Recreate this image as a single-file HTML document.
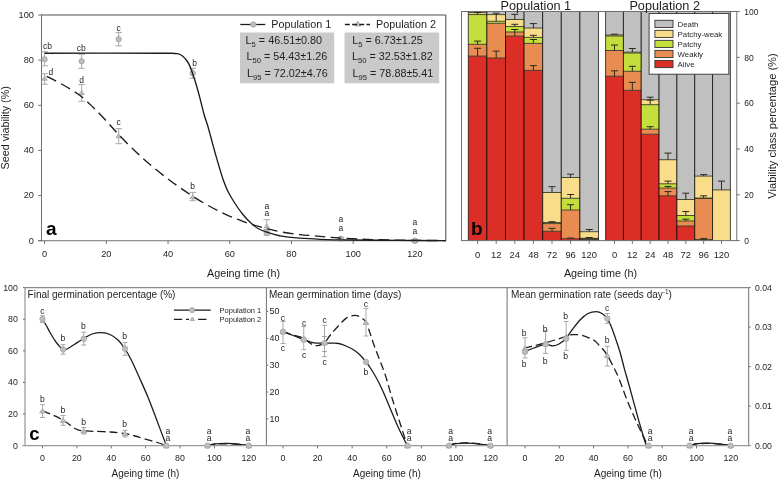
<!DOCTYPE html>
<html><head><meta charset="utf-8"><style>
html,body{margin:0;padding:0;background:#fff;}
svg{display:block;font-family:"Liberation Sans", sans-serif;will-change:transform;}
</style></head><body>
<svg width="779" height="480" viewBox="0 0 779 480" font-family='"Liberation Sans", sans-serif'>
<rect width="779" height="480" fill="#fff"/>
<path d="M41.5,15.0H445.8" stroke="#8a8a8a" stroke-width="1.4" fill="none"/>
<line x1="445.80" y1="15.00" x2="445.80" y2="240.70" stroke="#555" stroke-width="1.1" />
<line x1="41.50" y1="14.30" x2="41.50" y2="241.20" stroke="#6f6f6f" stroke-width="1" />
<line x1="38.30" y1="240.70" x2="445.80" y2="240.70" stroke="#6f6f6f" stroke-width="1.1" />
<line x1="38.30" y1="240.70" x2="41.50" y2="240.70" stroke="#6f6f6f" stroke-width="1" />
<text x="33.90" y="243.60" font-size="9.2" text-anchor="end" font-weight="normal" fill="#1e1e1e" >0</text>
<line x1="38.30" y1="195.56" x2="41.50" y2="195.56" stroke="#6f6f6f" stroke-width="1" />
<text x="33.90" y="198.46" font-size="9.2" text-anchor="end" font-weight="normal" fill="#1e1e1e" >20</text>
<line x1="38.30" y1="150.42" x2="41.50" y2="150.42" stroke="#6f6f6f" stroke-width="1" />
<text x="33.90" y="153.32" font-size="9.2" text-anchor="end" font-weight="normal" fill="#1e1e1e" >40</text>
<line x1="38.30" y1="105.28" x2="41.50" y2="105.28" stroke="#6f6f6f" stroke-width="1" />
<text x="33.90" y="108.18" font-size="9.2" text-anchor="end" font-weight="normal" fill="#1e1e1e" >60</text>
<line x1="38.30" y1="60.14" x2="41.50" y2="60.14" stroke="#6f6f6f" stroke-width="1" />
<text x="33.90" y="63.04" font-size="9.2" text-anchor="end" font-weight="normal" fill="#1e1e1e" >80</text>
<line x1="38.30" y1="15.00" x2="41.50" y2="15.00" stroke="#6f6f6f" stroke-width="1" />
<text x="33.90" y="17.90" font-size="9.2" text-anchor="end" font-weight="normal" fill="#1e1e1e" >100</text>
<line x1="44.60" y1="240.70" x2="44.60" y2="244.00" stroke="#6f6f6f" stroke-width="1" />
<text x="44.60" y="257.10" font-size="9.2" text-anchor="middle" font-weight="normal" fill="#1e1e1e" >0</text>
<line x1="106.32" y1="240.70" x2="106.32" y2="244.00" stroke="#6f6f6f" stroke-width="1" />
<text x="106.32" y="257.10" font-size="9.2" text-anchor="middle" font-weight="normal" fill="#1e1e1e" >20</text>
<line x1="168.04" y1="240.70" x2="168.04" y2="244.00" stroke="#6f6f6f" stroke-width="1" />
<text x="168.04" y="257.10" font-size="9.2" text-anchor="middle" font-weight="normal" fill="#1e1e1e" >40</text>
<line x1="229.76" y1="240.70" x2="229.76" y2="244.00" stroke="#6f6f6f" stroke-width="1" />
<text x="229.76" y="257.10" font-size="9.2" text-anchor="middle" font-weight="normal" fill="#1e1e1e" >60</text>
<line x1="291.48" y1="240.70" x2="291.48" y2="244.00" stroke="#6f6f6f" stroke-width="1" />
<text x="291.48" y="257.10" font-size="9.2" text-anchor="middle" font-weight="normal" fill="#1e1e1e" >80</text>
<line x1="353.20" y1="240.70" x2="353.20" y2="244.00" stroke="#6f6f6f" stroke-width="1" />
<text x="353.20" y="257.10" font-size="9.2" text-anchor="middle" font-weight="normal" fill="#1e1e1e" >100</text>
<line x1="414.92" y1="240.70" x2="414.92" y2="244.00" stroke="#6f6f6f" stroke-width="1" />
<text x="414.92" y="257.10" font-size="9.2" text-anchor="middle" font-weight="normal" fill="#1e1e1e" >120</text>
<text x="243.60" y="276.60" font-size="10.8" text-anchor="middle" font-weight="normal" fill="#1e1e1e" >Ageing time (h)</text>
<text transform="translate(9.2,127.8) rotate(-90)" font-size="10.8" text-anchor="middle" fill="#1e1e1e">Seed viability (%)</text>
<text x="46.00" y="235.20" font-size="19" text-anchor="start" font-weight="bold" fill="#000" >a</text>
<path d="M41.30,73.70H47.90M44.60,73.70V84.20M41.30,84.20H47.90" stroke="#a8a8a8" stroke-width="1" fill="none"/>
<path d="M78.33,84.50H84.93M81.63,84.50V101.30M78.33,101.30H84.93" stroke="#a8a8a8" stroke-width="1" fill="none"/>
<path d="M115.36,128.70H121.96M118.66,128.70V143.70M115.36,143.70H121.96" stroke="#a8a8a8" stroke-width="1" fill="none"/>
<path d="M189.43,192.40H196.03M192.73,192.40V200.70M189.43,200.70H196.03" stroke="#a8a8a8" stroke-width="1" fill="none"/>
<path d="M263.49,219.70H270.09M266.79,219.70V231.00M263.49,231.00H270.09" stroke="#a8a8a8" stroke-width="1" fill="none"/>
<path d="M337.56,237.60H344.16M340.86,237.60V239.60M337.56,239.60H344.16" stroke="#a8a8a8" stroke-width="1" fill="none"/>
<path d="M411.62,239.50H418.22M414.92,239.50V241.50M411.62,241.50H418.22" stroke="#a8a8a8" stroke-width="1" fill="none"/>
<path d="M41.30,51.70H47.90M44.60,51.70V65.80M41.30,65.80H47.90" stroke="#a8a8a8" stroke-width="1" fill="none"/>
<path d="M78.33,54.20H84.93M81.63,54.20V68.30M78.33,68.30H84.93" stroke="#a8a8a8" stroke-width="1" fill="none"/>
<path d="M115.36,32.60H121.96M118.66,32.60V45.80M115.36,45.80H121.96" stroke="#a8a8a8" stroke-width="1" fill="none"/>
<path d="M189.43,68.30H196.03M192.73,68.30V78.30M189.43,78.30H196.03" stroke="#a8a8a8" stroke-width="1" fill="none"/>
<path d="M263.49,229.50H270.09M266.79,229.50V235.10M263.49,235.10H270.09" stroke="#a8a8a8" stroke-width="1" fill="none"/>
<path d="M337.56,237.60H344.16M340.86,237.60V239.60M337.56,239.60H344.16" stroke="#a8a8a8" stroke-width="1" fill="none"/>
<path d="M411.62,239.50H418.22M414.92,239.50V241.50M411.62,241.50H418.22" stroke="#a8a8a8" stroke-width="1" fill="none"/>
<polygon points="44.60,76.16 47.22,80.23 41.98,80.23" fill="#bdbdbd" stroke="#a3a3a3" stroke-width="0.8"/>
<polygon points="81.63,90.38 84.26,94.45 79.01,94.45" fill="#bdbdbd" stroke="#a3a3a3" stroke-width="0.8"/>
<polygon points="118.66,133.72 121.29,137.78 116.04,137.78" fill="#bdbdbd" stroke="#a3a3a3" stroke-width="0.8"/>
<polygon points="192.73,194.65 195.35,198.72 190.10,198.72" fill="#bdbdbd" stroke="#a3a3a3" stroke-width="0.8"/>
<polygon points="266.79,224.00 269.42,228.06 264.17,228.06" fill="#bdbdbd" stroke="#a3a3a3" stroke-width="0.8"/>
<polygon points="340.86,236.64 343.48,240.70 338.23,240.70" fill="#bdbdbd" stroke="#a3a3a3" stroke-width="0.8"/>
<polygon points="414.92,238.67 417.54,242.73 412.30,242.73" fill="#bdbdbd" stroke="#a3a3a3" stroke-width="0.8"/>
<circle cx="44.60" cy="59.24" r="2.7" fill="#bdbdbd" stroke="#a3a3a3" stroke-width="0.8"/>
<circle cx="81.63" cy="61.27" r="2.7" fill="#bdbdbd" stroke="#a3a3a3" stroke-width="0.8"/>
<circle cx="118.66" cy="39.15" r="2.7" fill="#bdbdbd" stroke="#a3a3a3" stroke-width="0.8"/>
<circle cx="192.73" cy="73.23" r="2.7" fill="#bdbdbd" stroke="#a3a3a3" stroke-width="0.8"/>
<circle cx="266.79" cy="233.25" r="2.7" fill="#bdbdbd" stroke="#a3a3a3" stroke-width="0.8"/>
<circle cx="340.86" cy="238.67" r="2.7" fill="#bdbdbd" stroke="#a3a3a3" stroke-width="0.8"/>
<circle cx="414.92" cy="240.70" r="2.7" fill="#bdbdbd" stroke="#a3a3a3" stroke-width="0.8"/>
<path d="M44.60,53.20 C63.83,53.20 138.77,53.19 160.00,53.20 C181.23,53.21 169.17,53.18 172.00,53.25 C174.83,53.32 175.67,53.39 177.00,53.60 C178.33,53.81 179.08,54.10 180.00,54.50 C180.92,54.90 181.53,55.18 182.50,56.00 C183.47,56.82 184.68,57.97 185.80,59.40 C186.92,60.83 188.08,62.28 189.20,64.60 C190.32,66.92 191.40,70.18 192.50,73.30 C193.60,76.42 194.55,79.13 195.80,83.30 C197.05,87.47 198.60,93.02 200.00,98.30 C201.40,103.58 202.95,110.55 204.20,115.00 C205.45,119.45 206.40,121.33 207.50,125.00 C208.60,128.67 209.55,132.42 210.80,137.00 C212.05,141.58 213.55,147.33 215.00,152.50 C216.45,157.67 218.12,163.42 219.50,168.00 C220.88,172.58 221.88,176.08 223.30,180.00 C224.72,183.92 226.05,187.58 228.00,191.50 C229.95,195.42 232.45,199.58 235.00,203.50 C237.55,207.42 240.55,211.65 243.30,215.00 C246.05,218.35 249.05,221.35 251.50,223.60 C253.95,225.85 255.58,227.13 258.00,228.50 C260.42,229.87 262.05,230.53 266.00,231.80 C269.95,233.07 276.03,235.03 281.70,236.10 C287.37,237.17 293.62,237.67 300.00,238.20 C306.38,238.73 311.67,239.00 320.00,239.30 C328.33,239.60 336.67,239.82 350.00,240.00 C363.33,240.18 384.03,240.30 400.00,240.40 C415.97,240.50 438.17,240.57 445.80,240.60" stroke="#1c1c1c" stroke-width="1.35" fill="none"/>
<path d="M46.70,76.30 C49.47,77.75 57.75,81.80 63.30,85.00 C68.85,88.20 75.00,91.75 80.00,95.50 C85.00,99.25 89.13,103.50 93.30,107.50 C97.47,111.50 100.83,115.05 105.00,119.50 C109.17,123.95 113.30,128.95 118.30,134.20 C123.30,139.45 129.72,145.95 135.00,151.00 C140.28,156.05 144.45,159.80 150.00,164.50 C155.55,169.20 161.63,174.20 168.30,179.20 C174.97,184.20 183.05,189.95 190.00,194.50 C196.95,199.05 203.88,203.12 210.00,206.50 C216.12,209.88 221.70,212.52 226.70,214.80 C231.70,217.08 235.70,218.55 240.00,220.20 C244.30,221.85 248.17,223.35 252.50,224.70 C256.83,226.05 261.13,227.08 266.00,228.30 C270.87,229.52 276.03,230.95 281.70,232.00 C287.37,233.05 294.52,233.95 300.00,234.60 C305.48,235.25 308.05,235.33 314.60,235.90 C321.15,236.47 329.73,237.38 339.30,238.00 C348.87,238.62 360.22,239.22 372.00,239.60 C383.78,239.98 397.70,240.13 410.00,240.30 C422.30,240.47 439.83,240.55 445.80,240.60" stroke="#1c1c1c" stroke-width="1.35" fill="none" stroke-dasharray="10.5 5.5"/>
<text x="47.50" y="49.20" font-size="8.5" text-anchor="middle" font-weight="normal" fill="#1e1e1e" >cb</text>
<text x="81.30" y="51.00" font-size="8.5" text-anchor="middle" font-weight="normal" fill="#1e1e1e" >cb</text>
<text x="118.70" y="31.00" font-size="8.5" text-anchor="middle" font-weight="normal" fill="#1e1e1e" >c</text>
<text x="194.50" y="66.00" font-size="8.5" text-anchor="middle" font-weight="normal" fill="#1e1e1e" >b</text>
<text x="50.80" y="74.70" font-size="8.5" text-anchor="middle" font-weight="normal" fill="#1e1e1e" >d</text>
<text x="81.70" y="82.70" font-size="8.5" text-anchor="middle" font-weight="normal" fill="#1e1e1e" >d</text>
<text x="118.70" y="125.00" font-size="8.5" text-anchor="middle" font-weight="normal" fill="#1e1e1e" >c</text>
<text x="192.73" y="189.20" font-size="8.5" text-anchor="middle" font-weight="normal" fill="#1e1e1e" >b</text>
<text x="266.79" y="209.00" font-size="8.5" text-anchor="middle" font-weight="normal" fill="#1e1e1e" >a</text>
<text x="266.79" y="216.30" font-size="8.5" text-anchor="middle" font-weight="normal" fill="#1e1e1e" >a</text>
<text x="340.86" y="222.00" font-size="8.5" text-anchor="middle" font-weight="normal" fill="#1e1e1e" >a</text>
<text x="340.86" y="230.80" font-size="8.5" text-anchor="middle" font-weight="normal" fill="#1e1e1e" >a</text>
<text x="414.92" y="225.10" font-size="8.5" text-anchor="middle" font-weight="normal" fill="#1e1e1e" >a</text>
<text x="414.92" y="233.90" font-size="8.5" text-anchor="middle" font-weight="normal" fill="#1e1e1e" >a</text>
<line x1="240.30" y1="24.50" x2="265.30" y2="24.50" stroke="#1c1c1c" stroke-width="1.3" />
<circle cx="253.30" cy="24.50" r="2.7" fill="#bdbdbd" stroke="#a3a3a3" stroke-width="0.8"/>
<text x="271.20" y="27.80" font-size="10.8" text-anchor="start" font-weight="normal" fill="#1e1e1e" >Population 1</text>
<polygon points="357.70,21.25 360.73,25.95 354.67,25.95" fill="#bdbdbd" stroke="#a3a3a3" stroke-width="0.8"/>
<path d="M344.9,24.5H370" stroke="#1c1c1c" stroke-width="1.3" stroke-dasharray="4.9 2.3"/>
<text x="376.00" y="27.80" font-size="10.8" text-anchor="start" font-weight="normal" fill="#1e1e1e" >Population 2</text>
<rect x="240" y="32.5" width="94.2" height="50.8" fill="#c9c9c9"/>
<rect x="344.5" y="32.5" width="94.7" height="50.8" fill="#c9c9c9"/>
<text x="245.6" y="44.2" font-size="10.8" fill="#1e1e1e">L<tspan font-size="7.6" dy="2.6">5</tspan><tspan dy="-2.6"> = 46.51±0.80</tspan></text>
<text x="246.5" y="60.2" font-size="10.8" fill="#1e1e1e">L<tspan font-size="7.6" dy="2.6">50</tspan><tspan dy="-2.6"> = 54.43±1.26</tspan></text>
<text x="247.0" y="77.0" font-size="10.8" fill="#1e1e1e">L<tspan font-size="7.6" dy="2.6">95</tspan><tspan dy="-2.6"> = 72.02±4.76</tspan></text>
<text x="352.3" y="44.2" font-size="10.8" fill="#1e1e1e">L<tspan font-size="7.6" dy="2.6">5</tspan><tspan dy="-2.6"> = 6.73±1.25</tspan></text>
<text x="352.0" y="60.2" font-size="10.8" fill="#1e1e1e">L<tspan font-size="7.6" dy="2.6">50</tspan><tspan dy="-2.6"> = 32.53±1.82</tspan></text>
<text x="352.6" y="77.0" font-size="10.8" fill="#1e1e1e">L<tspan font-size="7.6" dy="2.6">95</tspan><tspan dy="-2.6"> = 78.88±5.41</tspan></text>
<rect x="468.30" y="11.50" width="18.60" height="1.10" fill="#c0c0c0"/>
<rect x="468.30" y="12.60" width="18.60" height="2.00" fill="#f9dd8a"/>
<rect x="468.30" y="14.60" width="18.60" height="29.70" fill="#c4df3c"/>
<rect x="468.30" y="44.30" width="18.60" height="11.80" fill="#e98c52"/>
<rect x="468.30" y="56.10" width="18.60" height="184.50" fill="#da2e27"/>
<line x1="468.30" y1="12.60" x2="486.90" y2="12.60" stroke="#3a3a2a" stroke-width="0.9" />
<line x1="468.30" y1="14.60" x2="486.90" y2="14.60" stroke="#3a3a2a" stroke-width="0.9" />
<line x1="468.30" y1="44.30" x2="486.90" y2="44.30" stroke="#3a3a2a" stroke-width="0.9" />
<line x1="468.30" y1="56.10" x2="486.90" y2="56.10" stroke="#3a3a2a" stroke-width="0.9" />
<line x1="468.30" y1="11.50" x2="468.30" y2="240.60" stroke="#000" stroke-width="1" stroke-opacity="0.7"/>
<line x1="486.90" y1="11.50" x2="486.90" y2="240.60" stroke="#000" stroke-width="1" stroke-opacity="0.7"/>
<path d="M474.10,12.60H481.10M477.60,12.60V14.60" stroke="#2a2a1a" stroke-width="1" fill="none"/>
<path d="M474.10,41.10H481.10M477.60,41.10V44.30" stroke="#2a2a1a" stroke-width="1" fill="none"/>
<path d="M474.10,48.30H481.10M477.60,48.30V56.10" stroke="#2a2a1a" stroke-width="1" fill="none"/>
<rect x="486.90" y="11.50" width="18.60" height="3.10" fill="#c0c0c0"/>
<rect x="486.90" y="14.60" width="18.60" height="6.70" fill="#f9dd8a"/>
<rect x="486.90" y="21.30" width="18.60" height="2.00" fill="#c4df3c"/>
<rect x="486.90" y="23.30" width="18.60" height="34.70" fill="#e98c52"/>
<rect x="486.90" y="58.00" width="18.60" height="182.60" fill="#da2e27"/>
<line x1="486.90" y1="14.60" x2="505.50" y2="14.60" stroke="#3a3a2a" stroke-width="0.9" />
<line x1="486.90" y1="21.30" x2="505.50" y2="21.30" stroke="#3a3a2a" stroke-width="0.9" />
<line x1="486.90" y1="23.30" x2="505.50" y2="23.30" stroke="#3a3a2a" stroke-width="0.9" />
<line x1="486.90" y1="58.00" x2="505.50" y2="58.00" stroke="#3a3a2a" stroke-width="0.9" />
<line x1="486.90" y1="11.50" x2="486.90" y2="240.60" stroke="#000" stroke-width="1" stroke-opacity="0.7"/>
<line x1="505.50" y1="11.50" x2="505.50" y2="240.60" stroke="#000" stroke-width="1" stroke-opacity="0.7"/>
<path d="M492.70,13.20H499.70M496.20,13.20V21.30" stroke="#2a2a1a" stroke-width="1" fill="none"/>
<path d="M492.70,51.10H499.70M496.20,51.10V58.00" stroke="#2a2a1a" stroke-width="1" fill="none"/>
<rect x="505.50" y="11.50" width="18.60" height="8.00" fill="#c0c0c0"/>
<rect x="505.50" y="19.50" width="18.60" height="7.00" fill="#f9dd8a"/>
<rect x="505.50" y="26.50" width="18.60" height="5.50" fill="#c4df3c"/>
<rect x="505.50" y="32.00" width="18.60" height="4.10" fill="#e98c52"/>
<rect x="505.50" y="36.10" width="18.60" height="204.50" fill="#da2e27"/>
<line x1="505.50" y1="19.50" x2="524.10" y2="19.50" stroke="#3a3a2a" stroke-width="0.9" />
<line x1="505.50" y1="26.50" x2="524.10" y2="26.50" stroke="#3a3a2a" stroke-width="0.9" />
<line x1="505.50" y1="32.00" x2="524.10" y2="32.00" stroke="#3a3a2a" stroke-width="0.9" />
<line x1="505.50" y1="36.10" x2="524.10" y2="36.10" stroke="#3a3a2a" stroke-width="0.9" />
<line x1="505.50" y1="11.50" x2="505.50" y2="240.60" stroke="#000" stroke-width="1" stroke-opacity="0.7"/>
<line x1="524.10" y1="11.50" x2="524.10" y2="240.60" stroke="#000" stroke-width="1" stroke-opacity="0.7"/>
<path d="M511.30,14.30H518.30M514.80,14.30V19.50" stroke="#2a2a1a" stroke-width="1" fill="none"/>
<path d="M511.30,24.30H518.30M514.80,24.30V26.50" stroke="#2a2a1a" stroke-width="1" fill="none"/>
<path d="M511.30,29.50H518.30M514.80,29.50V36.10" stroke="#2a2a1a" stroke-width="1" fill="none"/>
<rect x="524.10" y="11.50" width="18.60" height="16.50" fill="#c0c0c0"/>
<rect x="524.10" y="28.00" width="18.60" height="9.40" fill="#f9dd8a"/>
<rect x="524.10" y="37.40" width="18.60" height="6.00" fill="#c4df3c"/>
<rect x="524.10" y="43.40" width="18.60" height="27.00" fill="#e98c52"/>
<rect x="524.10" y="70.40" width="18.60" height="170.20" fill="#da2e27"/>
<line x1="524.10" y1="28.00" x2="542.70" y2="28.00" stroke="#3a3a2a" stroke-width="0.9" />
<line x1="524.10" y1="37.40" x2="542.70" y2="37.40" stroke="#3a3a2a" stroke-width="0.9" />
<line x1="524.10" y1="43.40" x2="542.70" y2="43.40" stroke="#3a3a2a" stroke-width="0.9" />
<line x1="524.10" y1="70.40" x2="542.70" y2="70.40" stroke="#3a3a2a" stroke-width="0.9" />
<line x1="524.10" y1="11.50" x2="524.10" y2="240.60" stroke="#000" stroke-width="1" stroke-opacity="0.7"/>
<line x1="542.70" y1="11.50" x2="542.70" y2="240.60" stroke="#000" stroke-width="1" stroke-opacity="0.7"/>
<path d="M529.90,23.60H536.90M533.40,23.60V28.00" stroke="#2a2a1a" stroke-width="1" fill="none"/>
<path d="M529.90,35.30H536.90M533.40,35.30V37.40" stroke="#2a2a1a" stroke-width="1" fill="none"/>
<path d="M529.90,39.50H536.90M533.40,39.50V43.40" stroke="#2a2a1a" stroke-width="1" fill="none"/>
<path d="M529.90,65.60H536.90M533.40,65.60V70.40" stroke="#2a2a1a" stroke-width="1" fill="none"/>
<rect x="542.70" y="11.50" width="18.60" height="181.00" fill="#c0c0c0"/>
<rect x="542.70" y="192.50" width="18.60" height="30.00" fill="#f9dd8a"/>
<rect x="542.70" y="222.50" width="18.60" height="1.10" fill="#c4df3c"/>
<rect x="542.70" y="223.60" width="18.60" height="7.70" fill="#e98c52"/>
<rect x="542.70" y="231.30" width="18.60" height="9.30" fill="#da2e27"/>
<line x1="542.70" y1="192.50" x2="561.30" y2="192.50" stroke="#3a3a2a" stroke-width="0.9" />
<line x1="542.70" y1="222.50" x2="561.30" y2="222.50" stroke="#3a3a2a" stroke-width="0.9" />
<line x1="542.70" y1="223.60" x2="561.30" y2="223.60" stroke="#3a3a2a" stroke-width="0.9" />
<line x1="542.70" y1="231.30" x2="561.30" y2="231.30" stroke="#3a3a2a" stroke-width="0.9" />
<line x1="542.70" y1="11.50" x2="542.70" y2="240.60" stroke="#000" stroke-width="1" stroke-opacity="0.7"/>
<line x1="561.30" y1="11.50" x2="561.30" y2="240.60" stroke="#000" stroke-width="1" stroke-opacity="0.7"/>
<path d="M548.50,186.70H555.50M552.00,186.70V192.50" stroke="#2a2a1a" stroke-width="1" fill="none"/>
<path d="M548.50,221.70H555.50M552.00,221.70V222.50" stroke="#2a2a1a" stroke-width="1" fill="none"/>
<path d="M548.50,228.30H555.50M552.00,228.30V231.30" stroke="#2a2a1a" stroke-width="1" fill="none"/>
<rect x="561.30" y="11.50" width="18.60" height="166.00" fill="#c0c0c0"/>
<rect x="561.30" y="177.50" width="18.60" height="20.80" fill="#f9dd8a"/>
<rect x="561.30" y="198.30" width="18.60" height="11.70" fill="#c4df3c"/>
<rect x="561.30" y="210.00" width="18.60" height="28.70" fill="#e98c52"/>
<rect x="561.30" y="238.70" width="18.60" height="1.90" fill="#da2e27"/>
<line x1="561.30" y1="177.50" x2="579.90" y2="177.50" stroke="#3a3a2a" stroke-width="0.9" />
<line x1="561.30" y1="198.30" x2="579.90" y2="198.30" stroke="#3a3a2a" stroke-width="0.9" />
<line x1="561.30" y1="210.00" x2="579.90" y2="210.00" stroke="#3a3a2a" stroke-width="0.9" />
<line x1="561.30" y1="238.70" x2="579.90" y2="238.70" stroke="#3a3a2a" stroke-width="0.9" />
<line x1="561.30" y1="11.50" x2="561.30" y2="240.60" stroke="#000" stroke-width="1" stroke-opacity="0.7"/>
<line x1="579.90" y1="11.50" x2="579.90" y2="240.60" stroke="#000" stroke-width="1" stroke-opacity="0.7"/>
<path d="M567.10,174.20H574.10M570.60,174.20V177.50" stroke="#2a2a1a" stroke-width="1" fill="none"/>
<path d="M567.10,194.50H574.10M570.60,194.50V198.30" stroke="#2a2a1a" stroke-width="1" fill="none"/>
<path d="M567.10,204.70H574.10M570.60,204.70V210.00" stroke="#2a2a1a" stroke-width="1" fill="none"/>
<path d="M567.10,238.00H574.10M570.60,238.00V238.70" stroke="#2a2a1a" stroke-width="1" fill="none"/>
<rect x="579.90" y="11.50" width="18.60" height="220.20" fill="#c0c0c0"/>
<rect x="579.90" y="231.70" width="18.60" height="6.60" fill="#f9dd8a"/>
<rect x="579.90" y="238.30" width="18.60" height="0.30" fill="#c4df3c"/>
<rect x="579.90" y="238.60" width="18.60" height="0.90" fill="#e98c52"/>
<rect x="579.90" y="239.50" width="18.60" height="1.10" fill="#da2e27"/>
<line x1="579.90" y1="231.70" x2="598.50" y2="231.70" stroke="#3a3a2a" stroke-width="0.9" />
<line x1="579.90" y1="238.30" x2="598.50" y2="238.30" stroke="#3a3a2a" stroke-width="0.9" />
<line x1="579.90" y1="238.60" x2="598.50" y2="238.60" stroke="#3a3a2a" stroke-width="0.9" />
<line x1="579.90" y1="239.50" x2="598.50" y2="239.50" stroke="#3a3a2a" stroke-width="0.9" />
<line x1="579.90" y1="11.50" x2="579.90" y2="240.60" stroke="#000" stroke-width="1" stroke-opacity="0.7"/>
<line x1="598.50" y1="11.50" x2="598.50" y2="240.60" stroke="#000" stroke-width="1" stroke-opacity="0.7"/>
<path d="M585.70,229.50H592.70M589.20,229.50V231.70" stroke="#2a2a1a" stroke-width="1" fill="none"/>
<path d="M585.70,237.50H592.70M589.20,237.50V238.30" stroke="#2a2a1a" stroke-width="1" fill="none"/>
<rect x="605.60" y="11.50" width="17.83" height="23.50" fill="#c0c0c0"/>
<rect x="605.60" y="35.00" width="17.83" height="1.00" fill="#f9dd8a"/>
<rect x="605.60" y="36.00" width="17.83" height="14.50" fill="#c4df3c"/>
<rect x="605.60" y="50.50" width="17.83" height="25.70" fill="#e98c52"/>
<rect x="605.60" y="76.20" width="17.83" height="164.40" fill="#da2e27"/>
<line x1="605.60" y1="35.00" x2="623.43" y2="35.00" stroke="#3a3a2a" stroke-width="0.9" />
<line x1="605.60" y1="36.00" x2="623.43" y2="36.00" stroke="#3a3a2a" stroke-width="0.9" />
<line x1="605.60" y1="50.50" x2="623.43" y2="50.50" stroke="#3a3a2a" stroke-width="0.9" />
<line x1="605.60" y1="76.20" x2="623.43" y2="76.20" stroke="#3a3a2a" stroke-width="0.9" />
<line x1="605.60" y1="11.50" x2="605.60" y2="240.60" stroke="#000" stroke-width="1" stroke-opacity="0.7"/>
<line x1="623.43" y1="11.50" x2="623.43" y2="240.60" stroke="#000" stroke-width="1" stroke-opacity="0.7"/>
<path d="M611.01,34.20H618.01M614.51,34.20V35.00" stroke="#2a2a1a" stroke-width="1" fill="none"/>
<path d="M611.01,45.00H618.01M614.51,45.00V50.50" stroke="#2a2a1a" stroke-width="1" fill="none"/>
<path d="M611.01,70.80H618.01M614.51,70.80V76.20" stroke="#2a2a1a" stroke-width="1" fill="none"/>
<rect x="623.43" y="11.50" width="17.83" height="40.70" fill="#c0c0c0"/>
<rect x="623.43" y="52.20" width="17.83" height="0.80" fill="#f9dd8a"/>
<rect x="623.43" y="53.00" width="17.83" height="18.30" fill="#c4df3c"/>
<rect x="623.43" y="71.30" width="17.83" height="19.00" fill="#e98c52"/>
<rect x="623.43" y="90.30" width="17.83" height="150.30" fill="#da2e27"/>
<line x1="623.43" y1="52.20" x2="641.26" y2="52.20" stroke="#3a3a2a" stroke-width="0.9" />
<line x1="623.43" y1="53.00" x2="641.26" y2="53.00" stroke="#3a3a2a" stroke-width="0.9" />
<line x1="623.43" y1="71.30" x2="641.26" y2="71.30" stroke="#3a3a2a" stroke-width="0.9" />
<line x1="623.43" y1="90.30" x2="641.26" y2="90.30" stroke="#3a3a2a" stroke-width="0.9" />
<line x1="623.43" y1="11.50" x2="623.43" y2="240.60" stroke="#000" stroke-width="1" stroke-opacity="0.7"/>
<line x1="641.26" y1="11.50" x2="641.26" y2="240.60" stroke="#000" stroke-width="1" stroke-opacity="0.7"/>
<path d="M628.84,48.50H635.84M632.34,48.50V52.20" stroke="#2a2a1a" stroke-width="1" fill="none"/>
<path d="M628.84,66.30H635.84M632.34,66.30V71.30" stroke="#2a2a1a" stroke-width="1" fill="none"/>
<path d="M628.84,82.40H635.84M632.34,82.40V90.30" stroke="#2a2a1a" stroke-width="1" fill="none"/>
<rect x="641.26" y="11.50" width="17.83" height="88.20" fill="#c0c0c0"/>
<rect x="641.26" y="99.70" width="17.83" height="5.00" fill="#f9dd8a"/>
<rect x="641.26" y="104.70" width="17.83" height="24.50" fill="#c4df3c"/>
<rect x="641.26" y="129.20" width="17.83" height="5.00" fill="#e98c52"/>
<rect x="641.26" y="134.20" width="17.83" height="106.40" fill="#da2e27"/>
<line x1="641.26" y1="99.70" x2="659.09" y2="99.70" stroke="#3a3a2a" stroke-width="0.9" />
<line x1="641.26" y1="104.70" x2="659.09" y2="104.70" stroke="#3a3a2a" stroke-width="0.9" />
<line x1="641.26" y1="129.20" x2="659.09" y2="129.20" stroke="#3a3a2a" stroke-width="0.9" />
<line x1="641.26" y1="134.20" x2="659.09" y2="134.20" stroke="#3a3a2a" stroke-width="0.9" />
<line x1="641.26" y1="11.50" x2="641.26" y2="240.60" stroke="#000" stroke-width="1" stroke-opacity="0.7"/>
<line x1="659.09" y1="11.50" x2="659.09" y2="240.60" stroke="#000" stroke-width="1" stroke-opacity="0.7"/>
<path d="M646.67,97.20H653.67M650.17,97.20V99.70" stroke="#2a2a1a" stroke-width="1" fill="none"/>
<path d="M646.67,100.20H653.67M650.17,100.20V104.70" stroke="#2a2a1a" stroke-width="1" fill="none"/>
<path d="M646.67,126.70H653.67M650.17,126.70V129.20" stroke="#2a2a1a" stroke-width="1" fill="none"/>
<rect x="659.09" y="11.50" width="17.83" height="148.20" fill="#c0c0c0"/>
<rect x="659.09" y="159.70" width="17.83" height="24.10" fill="#f9dd8a"/>
<rect x="659.09" y="183.80" width="17.83" height="4.30" fill="#c4df3c"/>
<rect x="659.09" y="188.10" width="17.83" height="7.70" fill="#e98c52"/>
<rect x="659.09" y="195.80" width="17.83" height="44.80" fill="#da2e27"/>
<line x1="659.09" y1="159.70" x2="676.91" y2="159.70" stroke="#3a3a2a" stroke-width="0.9" />
<line x1="659.09" y1="183.80" x2="676.91" y2="183.80" stroke="#3a3a2a" stroke-width="0.9" />
<line x1="659.09" y1="188.10" x2="676.91" y2="188.10" stroke="#3a3a2a" stroke-width="0.9" />
<line x1="659.09" y1="195.80" x2="676.91" y2="195.80" stroke="#3a3a2a" stroke-width="0.9" />
<line x1="659.09" y1="11.50" x2="659.09" y2="240.60" stroke="#000" stroke-width="1" stroke-opacity="0.7"/>
<line x1="676.91" y1="11.50" x2="676.91" y2="240.60" stroke="#000" stroke-width="1" stroke-opacity="0.7"/>
<path d="M664.50,153.10H671.50M668.00,153.10V159.70" stroke="#2a2a1a" stroke-width="1" fill="none"/>
<path d="M664.50,181.10H671.50M668.00,181.10V183.80" stroke="#2a2a1a" stroke-width="1" fill="none"/>
<path d="M664.50,186.40H671.50M668.00,186.40V188.10" stroke="#2a2a1a" stroke-width="1" fill="none"/>
<path d="M664.50,191.60H671.50M668.00,191.60V195.80" stroke="#2a2a1a" stroke-width="1" fill="none"/>
<rect x="676.91" y="11.50" width="17.83" height="188.00" fill="#c0c0c0"/>
<rect x="676.91" y="199.50" width="17.83" height="16.00" fill="#f9dd8a"/>
<rect x="676.91" y="215.50" width="17.83" height="5.50" fill="#c4df3c"/>
<rect x="676.91" y="221.00" width="17.83" height="5.00" fill="#e98c52"/>
<rect x="676.91" y="226.00" width="17.83" height="14.60" fill="#da2e27"/>
<line x1="676.91" y1="199.50" x2="694.74" y2="199.50" stroke="#3a3a2a" stroke-width="0.9" />
<line x1="676.91" y1="215.50" x2="694.74" y2="215.50" stroke="#3a3a2a" stroke-width="0.9" />
<line x1="676.91" y1="221.00" x2="694.74" y2="221.00" stroke="#3a3a2a" stroke-width="0.9" />
<line x1="676.91" y1="226.00" x2="694.74" y2="226.00" stroke="#3a3a2a" stroke-width="0.9" />
<line x1="676.91" y1="11.50" x2="676.91" y2="240.60" stroke="#000" stroke-width="1" stroke-opacity="0.7"/>
<line x1="694.74" y1="11.50" x2="694.74" y2="240.60" stroke="#000" stroke-width="1" stroke-opacity="0.7"/>
<path d="M682.33,193.20H689.33M685.83,193.20V199.50" stroke="#2a2a1a" stroke-width="1" fill="none"/>
<path d="M682.33,211.50H689.33M685.83,211.50V215.50" stroke="#2a2a1a" stroke-width="1" fill="none"/>
<path d="M682.33,219.20H689.33M685.83,219.20V221.00" stroke="#2a2a1a" stroke-width="1" fill="none"/>
<rect x="694.74" y="11.50" width="17.83" height="164.60" fill="#c0c0c0"/>
<rect x="694.74" y="176.10" width="17.83" height="21.90" fill="#f9dd8a"/>
<rect x="694.74" y="198.00" width="17.83" height="0.50" fill="#c4df3c"/>
<rect x="694.74" y="198.50" width="17.83" height="41.00" fill="#e98c52"/>
<rect x="694.74" y="239.50" width="17.83" height="1.10" fill="#da2e27"/>
<line x1="694.74" y1="176.10" x2="712.57" y2="176.10" stroke="#3a3a2a" stroke-width="0.9" />
<line x1="694.74" y1="198.00" x2="712.57" y2="198.00" stroke="#3a3a2a" stroke-width="0.9" />
<line x1="694.74" y1="198.50" x2="712.57" y2="198.50" stroke="#3a3a2a" stroke-width="0.9" />
<line x1="694.74" y1="239.50" x2="712.57" y2="239.50" stroke="#3a3a2a" stroke-width="0.9" />
<line x1="694.74" y1="11.50" x2="694.74" y2="240.60" stroke="#000" stroke-width="1" stroke-opacity="0.7"/>
<line x1="712.57" y1="11.50" x2="712.57" y2="240.60" stroke="#000" stroke-width="1" stroke-opacity="0.7"/>
<path d="M700.16,174.60H707.16M703.66,174.60V176.10" stroke="#2a2a1a" stroke-width="1" fill="none"/>
<path d="M700.16,195.80H707.16M703.66,195.80V198.00" stroke="#2a2a1a" stroke-width="1" fill="none"/>
<path d="M700.16,238.60H707.16M703.66,238.60V239.50" stroke="#2a2a1a" stroke-width="1" fill="none"/>
<rect x="712.57" y="11.50" width="17.83" height="178.40" fill="#c0c0c0"/>
<rect x="712.57" y="189.90" width="17.83" height="50.70" fill="#f9dd8a"/>
<line x1="712.57" y1="189.90" x2="730.40" y2="189.90" stroke="#3a3a2a" stroke-width="0.9" />
<line x1="712.57" y1="11.50" x2="712.57" y2="240.60" stroke="#000" stroke-width="1" stroke-opacity="0.7"/>
<line x1="730.40" y1="11.50" x2="730.40" y2="240.60" stroke="#000" stroke-width="1" stroke-opacity="0.7"/>
<path d="M717.99,181.10H724.99M721.49,181.10V189.90" stroke="#2a2a1a" stroke-width="1" fill="none"/>
<rect x="461.5" y="11.5" width="275.29999999999995" height="229.1" fill="none" stroke="#6f6f6f" stroke-width="1"/>
<line x1="736.80" y1="240.60" x2="739.80" y2="240.60" stroke="#6f6f6f" stroke-width="1" />
<text x="744.30" y="243.70" font-size="8.5" text-anchor="start" font-weight="normal" fill="#1e1e1e" >0</text>
<line x1="736.80" y1="194.80" x2="739.80" y2="194.80" stroke="#6f6f6f" stroke-width="1" />
<text x="744.30" y="197.90" font-size="8.5" text-anchor="start" font-weight="normal" fill="#1e1e1e" >20</text>
<line x1="736.80" y1="149.00" x2="739.80" y2="149.00" stroke="#6f6f6f" stroke-width="1" />
<text x="744.30" y="152.10" font-size="8.5" text-anchor="start" font-weight="normal" fill="#1e1e1e" >40</text>
<line x1="736.80" y1="103.20" x2="739.80" y2="103.20" stroke="#6f6f6f" stroke-width="1" />
<text x="744.30" y="106.30" font-size="8.5" text-anchor="start" font-weight="normal" fill="#1e1e1e" >60</text>
<line x1="736.80" y1="57.40" x2="739.80" y2="57.40" stroke="#6f6f6f" stroke-width="1" />
<text x="744.30" y="60.50" font-size="8.5" text-anchor="start" font-weight="normal" fill="#1e1e1e" >80</text>
<line x1="736.80" y1="11.60" x2="739.80" y2="11.60" stroke="#6f6f6f" stroke-width="1" />
<text x="744.30" y="14.70" font-size="8.5" text-anchor="start" font-weight="normal" fill="#1e1e1e" >100</text>
<line x1="477.60" y1="240.60" x2="477.60" y2="243.90" stroke="#6f6f6f" stroke-width="1" />
<text x="477.60" y="257.60" font-size="9.4" text-anchor="middle" font-weight="normal" fill="#1e1e1e" >0</text>
<line x1="614.51" y1="240.60" x2="614.51" y2="243.90" stroke="#6f6f6f" stroke-width="1" />
<text x="614.51" y="257.60" font-size="9.4" text-anchor="middle" font-weight="normal" fill="#1e1e1e" >0</text>
<line x1="496.20" y1="240.60" x2="496.20" y2="243.90" stroke="#6f6f6f" stroke-width="1" />
<text x="496.20" y="257.60" font-size="9.4" text-anchor="middle" font-weight="normal" fill="#1e1e1e" >12</text>
<line x1="632.34" y1="240.60" x2="632.34" y2="243.90" stroke="#6f6f6f" stroke-width="1" />
<text x="632.34" y="257.60" font-size="9.4" text-anchor="middle" font-weight="normal" fill="#1e1e1e" >12</text>
<line x1="514.80" y1="240.60" x2="514.80" y2="243.90" stroke="#6f6f6f" stroke-width="1" />
<text x="514.80" y="257.60" font-size="9.4" text-anchor="middle" font-weight="normal" fill="#1e1e1e" >24</text>
<line x1="650.17" y1="240.60" x2="650.17" y2="243.90" stroke="#6f6f6f" stroke-width="1" />
<text x="650.17" y="257.60" font-size="9.4" text-anchor="middle" font-weight="normal" fill="#1e1e1e" >24</text>
<line x1="533.40" y1="240.60" x2="533.40" y2="243.90" stroke="#6f6f6f" stroke-width="1" />
<text x="533.40" y="257.60" font-size="9.4" text-anchor="middle" font-weight="normal" fill="#1e1e1e" >48</text>
<line x1="668.00" y1="240.60" x2="668.00" y2="243.90" stroke="#6f6f6f" stroke-width="1" />
<text x="668.00" y="257.60" font-size="9.4" text-anchor="middle" font-weight="normal" fill="#1e1e1e" >48</text>
<line x1="552.00" y1="240.60" x2="552.00" y2="243.90" stroke="#6f6f6f" stroke-width="1" />
<text x="552.00" y="257.60" font-size="9.4" text-anchor="middle" font-weight="normal" fill="#1e1e1e" >72</text>
<line x1="685.83" y1="240.60" x2="685.83" y2="243.90" stroke="#6f6f6f" stroke-width="1" />
<text x="685.83" y="257.60" font-size="9.4" text-anchor="middle" font-weight="normal" fill="#1e1e1e" >72</text>
<line x1="570.60" y1="240.60" x2="570.60" y2="243.90" stroke="#6f6f6f" stroke-width="1" />
<text x="570.60" y="257.60" font-size="9.4" text-anchor="middle" font-weight="normal" fill="#1e1e1e" >96</text>
<line x1="703.66" y1="240.60" x2="703.66" y2="243.90" stroke="#6f6f6f" stroke-width="1" />
<text x="703.66" y="257.60" font-size="9.4" text-anchor="middle" font-weight="normal" fill="#1e1e1e" >96</text>
<line x1="589.20" y1="240.60" x2="589.20" y2="243.90" stroke="#6f6f6f" stroke-width="1" />
<text x="589.20" y="257.60" font-size="9.4" text-anchor="middle" font-weight="normal" fill="#1e1e1e" >120</text>
<line x1="721.49" y1="240.60" x2="721.49" y2="243.90" stroke="#6f6f6f" stroke-width="1" />
<text x="721.49" y="257.60" font-size="9.4" text-anchor="middle" font-weight="normal" fill="#1e1e1e" >120</text>
<text x="600.50" y="277.30" font-size="10.8" text-anchor="middle" font-weight="normal" fill="#1e1e1e" >Ageing time (h)</text>
<text x="500.60" y="9.60" font-size="12.7" text-anchor="start" font-weight="normal" fill="#1e1e1e" >Population 1</text>
<text x="629.40" y="9.60" font-size="12.7" text-anchor="start" font-weight="normal" fill="#1e1e1e" >Population 2</text>
<text x="471.00" y="235.30" font-size="19" text-anchor="start" font-weight="bold" fill="#000" >b</text>
<text transform="translate(775.8,126) rotate(-90)" font-size="11.1" text-anchor="middle" fill="#1e1e1e">Viability class percentage (%)</text>
<rect x="649.1" y="13.5" width="79.7" height="60.7" fill="#fff" stroke="#333" stroke-width="0.9"/>
<rect x="654.9" y="20.30" width="18.1" height="7.2" fill="#c0c0c0" stroke="#333" stroke-width="0.9"/>
<text x="677.60" y="26.60" font-size="7.8" text-anchor="start" font-weight="normal" fill="#1e1e1e" >Death</text>
<rect x="654.9" y="30.33" width="18.1" height="7.2" fill="#f9dd8a" stroke="#333" stroke-width="0.9"/>
<text x="677.60" y="36.63" font-size="7.8" text-anchor="start" font-weight="normal" fill="#1e1e1e" >Patchy-weak</text>
<rect x="654.9" y="40.36" width="18.1" height="7.2" fill="#c4df3c" stroke="#333" stroke-width="0.9"/>
<text x="677.60" y="46.66" font-size="7.8" text-anchor="start" font-weight="normal" fill="#1e1e1e" >Patchy</text>
<rect x="654.9" y="50.39" width="18.1" height="7.2" fill="#e98c52" stroke="#333" stroke-width="0.9"/>
<text x="677.60" y="56.69" font-size="7.8" text-anchor="start" font-weight="normal" fill="#1e1e1e" >Weakly</text>
<rect x="654.9" y="60.42" width="18.1" height="7.2" fill="#da2e27" stroke="#333" stroke-width="0.9"/>
<text x="677.60" y="66.72" font-size="7.8" text-anchor="start" font-weight="normal" fill="#1e1e1e" >Alive</text>
<path d="M25,287.6H748.7" stroke="#8a8a8a" stroke-width="1.1" fill="none"/>
<line x1="25.00" y1="287.60" x2="25.00" y2="445.60" stroke="#8a8a8a" stroke-width="1.1" />
<line x1="266.40" y1="287.60" x2="266.40" y2="445.60" stroke="#6f6f6f" stroke-width="1" />
<line x1="507.10" y1="287.60" x2="507.10" y2="445.60" stroke="#6f6f6f" stroke-width="1" />
<line x1="748.70" y1="287.60" x2="748.70" y2="445.60" stroke="#6f6f6f" stroke-width="1" />
<line x1="23.00" y1="445.60" x2="25.00" y2="445.60" stroke="#6f6f6f" stroke-width="1" />
<text x="17.90" y="448.60" font-size="8.8" text-anchor="end" font-weight="normal" fill="#1e1e1e" >0</text>
<line x1="23.00" y1="414.00" x2="25.00" y2="414.00" stroke="#6f6f6f" stroke-width="1" />
<text x="17.90" y="417.00" font-size="8.8" text-anchor="end" font-weight="normal" fill="#1e1e1e" >20</text>
<line x1="23.00" y1="382.40" x2="25.00" y2="382.40" stroke="#6f6f6f" stroke-width="1" />
<text x="17.90" y="385.40" font-size="8.8" text-anchor="end" font-weight="normal" fill="#1e1e1e" >40</text>
<line x1="23.00" y1="350.80" x2="25.00" y2="350.80" stroke="#6f6f6f" stroke-width="1" />
<text x="17.90" y="353.80" font-size="8.8" text-anchor="end" font-weight="normal" fill="#1e1e1e" >60</text>
<line x1="23.00" y1="319.20" x2="25.00" y2="319.20" stroke="#6f6f6f" stroke-width="1" />
<text x="17.90" y="322.20" font-size="8.8" text-anchor="end" font-weight="normal" fill="#1e1e1e" >80</text>
<line x1="23.00" y1="287.60" x2="25.00" y2="287.60" stroke="#6f6f6f" stroke-width="1" />
<text x="17.90" y="290.60" font-size="8.8" text-anchor="end" font-weight="normal" fill="#1e1e1e" >100</text>
<line x1="266.40" y1="418.90" x2="268.30" y2="418.90" stroke="#6f6f6f" stroke-width="1" />
<text x="269.60" y="421.90" font-size="8.9" text-anchor="start" font-weight="normal" fill="#1e1e1e" >10</text>
<line x1="266.40" y1="392.00" x2="268.30" y2="392.00" stroke="#6f6f6f" stroke-width="1" />
<text x="269.60" y="395.00" font-size="8.9" text-anchor="start" font-weight="normal" fill="#1e1e1e" >20</text>
<line x1="266.40" y1="365.10" x2="268.30" y2="365.10" stroke="#6f6f6f" stroke-width="1" />
<text x="269.60" y="368.10" font-size="8.9" text-anchor="start" font-weight="normal" fill="#1e1e1e" >30</text>
<line x1="266.40" y1="338.20" x2="268.30" y2="338.20" stroke="#6f6f6f" stroke-width="1" />
<text x="269.60" y="341.20" font-size="8.9" text-anchor="start" font-weight="normal" fill="#1e1e1e" >40</text>
<line x1="266.40" y1="311.30" x2="268.30" y2="311.30" stroke="#6f6f6f" stroke-width="1" />
<text x="269.60" y="314.30" font-size="8.9" text-anchor="start" font-weight="normal" fill="#1e1e1e" >50</text>
<line x1="748.70" y1="445.60" x2="750.70" y2="445.60" stroke="#6f6f6f" stroke-width="1" />
<text x="754.90" y="448.60" font-size="8.7" text-anchor="start" font-weight="normal" fill="#1e1e1e" >0.00</text>
<line x1="748.70" y1="406.10" x2="750.70" y2="406.10" stroke="#6f6f6f" stroke-width="1" />
<text x="754.90" y="409.10" font-size="8.7" text-anchor="start" font-weight="normal" fill="#1e1e1e" >0.01</text>
<line x1="748.70" y1="366.60" x2="750.70" y2="366.60" stroke="#6f6f6f" stroke-width="1" />
<text x="754.90" y="369.60" font-size="8.7" text-anchor="start" font-weight="normal" fill="#1e1e1e" >0.02</text>
<line x1="748.70" y1="327.10" x2="750.70" y2="327.10" stroke="#6f6f6f" stroke-width="1" />
<text x="754.90" y="330.10" font-size="8.7" text-anchor="start" font-weight="normal" fill="#1e1e1e" >0.03</text>
<line x1="748.70" y1="287.60" x2="750.70" y2="287.60" stroke="#6f6f6f" stroke-width="1" />
<text x="754.90" y="290.60" font-size="8.7" text-anchor="start" font-weight="normal" fill="#1e1e1e" >0.04</text>
<line x1="42.50" y1="445.60" x2="42.50" y2="448.40" stroke="#6f6f6f" stroke-width="1" />
<text x="42.50" y="460.90" font-size="8.8" text-anchor="middle" font-weight="normal" fill="#1e1e1e" >0</text>
<line x1="76.88" y1="445.60" x2="76.88" y2="448.40" stroke="#6f6f6f" stroke-width="1" />
<text x="76.88" y="460.90" font-size="8.8" text-anchor="middle" font-weight="normal" fill="#1e1e1e" >20</text>
<line x1="111.26" y1="445.60" x2="111.26" y2="448.40" stroke="#6f6f6f" stroke-width="1" />
<text x="111.26" y="460.90" font-size="8.8" text-anchor="middle" font-weight="normal" fill="#1e1e1e" >40</text>
<line x1="145.64" y1="445.60" x2="145.64" y2="448.40" stroke="#6f6f6f" stroke-width="1" />
<text x="145.64" y="460.90" font-size="8.8" text-anchor="middle" font-weight="normal" fill="#1e1e1e" >60</text>
<line x1="180.02" y1="445.60" x2="180.02" y2="448.40" stroke="#6f6f6f" stroke-width="1" />
<text x="180.02" y="460.90" font-size="8.8" text-anchor="middle" font-weight="normal" fill="#1e1e1e" >80</text>
<line x1="214.40" y1="445.60" x2="214.40" y2="448.40" stroke="#6f6f6f" stroke-width="1" />
<text x="214.40" y="460.90" font-size="8.8" text-anchor="middle" font-weight="normal" fill="#1e1e1e" >100</text>
<line x1="248.78" y1="445.60" x2="248.78" y2="448.40" stroke="#6f6f6f" stroke-width="1" />
<text x="248.78" y="460.90" font-size="8.8" text-anchor="middle" font-weight="normal" fill="#1e1e1e" >120</text>
<line x1="283.00" y1="445.60" x2="283.00" y2="448.40" stroke="#6f6f6f" stroke-width="1" />
<text x="283.00" y="460.90" font-size="8.8" text-anchor="middle" font-weight="normal" fill="#1e1e1e" >0</text>
<line x1="317.58" y1="445.60" x2="317.58" y2="448.40" stroke="#6f6f6f" stroke-width="1" />
<text x="317.58" y="460.90" font-size="8.8" text-anchor="middle" font-weight="normal" fill="#1e1e1e" >20</text>
<line x1="352.16" y1="445.60" x2="352.16" y2="448.40" stroke="#6f6f6f" stroke-width="1" />
<text x="352.16" y="460.90" font-size="8.8" text-anchor="middle" font-weight="normal" fill="#1e1e1e" >40</text>
<line x1="386.74" y1="445.60" x2="386.74" y2="448.40" stroke="#6f6f6f" stroke-width="1" />
<text x="386.74" y="460.90" font-size="8.8" text-anchor="middle" font-weight="normal" fill="#1e1e1e" >60</text>
<line x1="421.32" y1="445.60" x2="421.32" y2="448.40" stroke="#6f6f6f" stroke-width="1" />
<text x="421.32" y="460.90" font-size="8.8" text-anchor="middle" font-weight="normal" fill="#1e1e1e" >80</text>
<line x1="455.90" y1="445.60" x2="455.90" y2="448.40" stroke="#6f6f6f" stroke-width="1" />
<text x="455.90" y="460.90" font-size="8.8" text-anchor="middle" font-weight="normal" fill="#1e1e1e" >100</text>
<line x1="490.48" y1="445.60" x2="490.48" y2="448.40" stroke="#6f6f6f" stroke-width="1" />
<text x="490.48" y="460.90" font-size="8.8" text-anchor="middle" font-weight="normal" fill="#1e1e1e" >120</text>
<line x1="525.00" y1="445.60" x2="525.00" y2="448.40" stroke="#6f6f6f" stroke-width="1" />
<text x="525.00" y="460.90" font-size="8.8" text-anchor="middle" font-weight="normal" fill="#1e1e1e" >0</text>
<line x1="559.30" y1="445.60" x2="559.30" y2="448.40" stroke="#6f6f6f" stroke-width="1" />
<text x="559.30" y="460.90" font-size="8.8" text-anchor="middle" font-weight="normal" fill="#1e1e1e" >20</text>
<line x1="593.60" y1="445.60" x2="593.60" y2="448.40" stroke="#6f6f6f" stroke-width="1" />
<text x="593.60" y="460.90" font-size="8.8" text-anchor="middle" font-weight="normal" fill="#1e1e1e" >40</text>
<line x1="627.90" y1="445.60" x2="627.90" y2="448.40" stroke="#6f6f6f" stroke-width="1" />
<text x="627.90" y="460.90" font-size="8.8" text-anchor="middle" font-weight="normal" fill="#1e1e1e" >60</text>
<line x1="662.20" y1="445.60" x2="662.20" y2="448.40" stroke="#6f6f6f" stroke-width="1" />
<text x="662.20" y="460.90" font-size="8.8" text-anchor="middle" font-weight="normal" fill="#1e1e1e" >80</text>
<line x1="696.50" y1="445.60" x2="696.50" y2="448.40" stroke="#6f6f6f" stroke-width="1" />
<text x="696.50" y="460.90" font-size="8.8" text-anchor="middle" font-weight="normal" fill="#1e1e1e" >100</text>
<line x1="730.80" y1="445.60" x2="730.80" y2="448.40" stroke="#6f6f6f" stroke-width="1" />
<text x="730.80" y="460.90" font-size="8.8" text-anchor="middle" font-weight="normal" fill="#1e1e1e" >120</text>
<text x="145.50" y="477.40" font-size="10" text-anchor="middle" font-weight="normal" fill="#1e1e1e" >Ageing time (h)</text>
<text x="386.90" y="477.40" font-size="10" text-anchor="middle" font-weight="normal" fill="#1e1e1e" >Ageing time (h)</text>
<text x="627.90" y="477.40" font-size="10" text-anchor="middle" font-weight="normal" fill="#1e1e1e" >Ageing time (h)</text>
<text x="27.60" y="298.10" font-size="10" text-anchor="start" font-weight="normal" fill="#1e1e1e" >Final germination percentage (%)</text>
<text x="269.00" y="298.10" font-size="10" text-anchor="start" font-weight="normal" fill="#1e1e1e" >Mean germination time (days)</text>
<text x="511" y="298.3" font-size="10" fill="#1e1e1e">Mean germination rate (seeds day<tspan font-size="6.5" dy="-4.5">-1</tspan><tspan dy="4.5">)</tspan></text>
<text x="29.20" y="440.40" font-size="18.5" text-anchor="start" font-weight="bold" fill="#000" >c</text>
<line x1="173.90" y1="310.10" x2="210.80" y2="310.10" stroke="#1c1c1c" stroke-width="1.3" />
<circle cx="192.10" cy="310.10" r="2.6" fill="#bdbdbd" stroke="#a3a3a3" stroke-width="0.8"/>
<path d="M173.9,319.4H207" stroke="#1c1c1c" stroke-width="1.3" stroke-dasharray="8.3 3.8"/>
<rect x="189" y="316" width="7.5" height="5" fill="#fff"/>
<polygon points="192.40,317.02 194.70,320.58 190.10,320.58" fill="#bdbdbd" stroke="#a3a3a3" stroke-width="0.8"/>
<text x="219.60" y="312.70" font-size="7.5" text-anchor="start" font-weight="normal" fill="#1e1e1e" >Population 1</text>
<text x="219.60" y="322.00" font-size="7.5" text-anchor="start" font-weight="normal" fill="#1e1e1e" >Population 2</text>
<path d="M42.20,319.20 C42.83,320.17 44.70,322.78 46.00,325.00 C47.30,327.22 48.67,330.17 50.00,332.50 C51.33,334.83 52.62,336.92 54.00,339.00 C55.38,341.08 56.75,343.20 58.30,345.00 C59.85,346.80 61.68,349.22 63.30,349.80 C64.92,350.38 66.05,349.47 68.00,348.50 C69.95,347.53 72.45,345.62 75.00,344.00 C77.55,342.38 80.47,340.47 83.30,338.80 C86.13,337.13 88.93,335.03 92.00,334.00 C95.07,332.97 98.70,332.52 101.70,332.60 C104.70,332.68 107.28,333.27 110.00,334.50 C112.72,335.73 115.55,337.67 118.00,340.00 C120.45,342.33 122.48,345.17 124.70,348.50 C126.92,351.83 128.75,354.92 131.30,360.00 C133.85,365.08 137.20,372.75 140.00,379.00 C142.80,385.25 145.43,391.00 148.10,397.50 C150.77,404.00 152.97,409.98 156.00,418.00 C159.03,426.02 164.58,441.00 166.30,445.60M207.50,445.60 C208.75,445.30 211.75,444.18 215.00,443.80 C218.25,443.42 222.83,443.22 227.00,443.30 C231.17,443.38 236.37,443.92 240.00,444.30 C243.63,444.68 247.33,445.38 248.80,445.60" stroke="#1c1c1c" stroke-width="1.3" fill="none"/>
<path d="M42.50,410.80 C43.75,411.30 47.63,412.82 50.00,413.80 C52.37,414.78 54.53,415.62 56.70,416.70 C58.87,417.78 61.12,419.17 63.00,420.30 C64.88,421.43 66.28,422.30 68.00,423.50 C69.72,424.70 71.63,426.45 73.30,427.50 C74.97,428.55 76.27,429.25 78.00,429.80 C79.73,430.35 81.15,430.55 83.70,430.80 C86.25,431.05 88.92,431.10 93.30,431.30 C97.68,431.50 104.77,431.63 110.00,432.00 C115.23,432.37 120.53,432.83 124.70,433.50 C128.87,434.17 131.72,435.12 135.00,436.00 C138.28,436.88 140.65,437.72 144.40,438.80 C148.15,439.88 153.85,441.37 157.50,442.50 C161.15,443.63 164.83,445.08 166.30,445.60M207.50,445.60 C208.75,445.37 211.75,444.50 215.00,444.20 C218.25,443.90 222.83,443.75 227.00,443.80 C231.17,443.85 236.37,444.20 240.00,444.50 C243.63,444.80 247.33,445.42 248.80,445.60" stroke="#1c1c1c" stroke-width="1.3" fill="none" stroke-dasharray="8 4"/>
<path d="M282.90,331.70 C284.58,332.33 289.47,334.17 293.00,335.50 C296.53,336.83 300.60,338.48 304.10,339.70 C307.60,340.92 310.57,342.23 314.00,342.80 C317.43,343.37 321.70,343.03 324.70,343.10 C327.70,343.17 329.65,343.13 332.00,343.20 C334.35,343.27 336.47,343.03 338.80,343.50 C341.13,343.97 343.50,344.92 346.00,346.00 C348.50,347.08 351.47,348.50 353.80,350.00 C356.13,351.50 357.97,353.02 360.00,355.00 C362.03,356.98 364.00,359.32 366.00,361.90 C368.00,364.48 369.87,367.07 372.00,370.50 C374.13,373.93 376.63,378.25 378.80,382.50 C380.97,386.75 382.82,391.00 385.00,396.00 C387.18,401.00 389.57,407.00 391.90,412.50 C394.23,418.00 396.43,423.48 399.00,429.00 C401.57,434.52 405.92,442.83 407.30,445.60M448.60,445.60 C449.83,445.27 452.77,444.00 456.00,443.60 C459.23,443.20 464.00,443.10 468.00,443.20 C472.00,443.30 476.32,443.80 480.00,444.20 C483.68,444.60 488.42,445.37 490.10,445.60" stroke="#1c1c1c" stroke-width="1.3" fill="none"/>
<path d="M282.90,331.70 C284.58,332.25 289.47,333.88 293.00,335.00 C296.53,336.12 301.43,337.15 304.10,338.40 C306.77,339.65 307.28,341.33 309.00,342.50 C310.72,343.67 312.73,344.93 314.40,345.40 C316.07,345.87 317.28,345.78 319.00,345.30 C320.72,344.82 322.87,344.13 324.70,342.50 C326.53,340.87 327.97,338.00 330.00,335.50 C332.03,333.00 334.18,330.40 336.90,327.50 C339.62,324.60 343.33,320.13 346.30,318.10 C349.27,316.07 352.25,315.40 354.70,315.30 C357.15,315.20 359.12,316.33 361.00,317.50 C362.88,318.67 364.50,319.72 366.00,322.30 C367.50,324.88 368.60,329.00 370.00,333.00 C371.40,337.00 372.78,341.80 374.40,346.30 C376.02,350.80 377.82,355.00 379.70,360.00 C381.58,365.00 383.67,370.05 385.70,376.30 C387.73,382.55 389.68,390.22 391.90,397.50 C394.12,404.78 396.43,411.98 399.00,420.00 C401.57,428.02 405.92,441.33 407.30,445.60M448.60,445.60 C449.83,445.23 452.77,443.83 456.00,443.40 C459.23,442.97 464.00,442.90 468.00,443.00 C472.00,443.10 476.32,443.57 480.00,444.00 C483.68,444.43 488.42,445.33 490.10,445.60" stroke="#1c1c1c" stroke-width="1.3" fill="none" stroke-dasharray="8 4"/>
<path d="M524.10,351.90 C525.75,351.25 530.50,349.28 534.00,348.00 C537.50,346.72 542.60,344.70 545.10,344.20 C547.60,343.70 547.65,344.73 549.00,345.00 C550.35,345.27 551.53,345.97 553.20,345.80 C554.87,345.63 556.92,345.17 559.00,344.00 C561.08,342.83 563.53,341.13 565.70,338.80 C567.87,336.47 569.62,333.13 572.00,330.00 C574.38,326.87 577.33,322.75 580.00,320.00 C582.67,317.25 585.28,314.90 588.00,313.50 C590.72,312.10 593.97,311.60 596.30,311.60 C598.63,311.60 600.18,312.35 602.00,313.50 C603.82,314.65 605.70,316.42 607.20,318.50 C608.70,320.58 609.70,322.93 611.00,326.00 C612.30,329.07 613.50,332.57 615.00,336.90 C616.50,341.23 618.43,346.68 620.00,352.00 C621.57,357.32 622.90,363.30 624.40,368.80 C625.90,374.30 627.23,378.65 629.00,385.00 C630.77,391.35 633.17,400.23 635.00,406.90 C636.83,413.57 638.12,418.57 640.00,425.00 C641.88,431.43 644.88,442.03 646.30,445.50 C647.72,448.97 648.13,445.75 648.50,445.80M689.80,445.60 C691.00,445.27 693.80,444.00 697.00,443.60 C700.20,443.20 705.00,443.10 709.00,443.20 C713.00,443.30 717.33,443.80 721.00,444.20 C724.67,444.60 729.33,445.37 731.00,445.60" stroke="#1c1c1c" stroke-width="1.3" fill="none"/>
<path d="M524.10,348.20 C525.92,347.75 531.52,346.37 535.00,345.50 C538.48,344.63 541.67,343.92 545.00,343.00 C548.33,342.08 551.55,341.08 555.00,340.00 C558.45,338.92 562.88,337.38 565.70,336.50 C568.52,335.62 569.52,334.95 571.90,334.70 C574.28,334.45 577.18,334.48 580.00,335.00 C582.82,335.52 586.30,336.80 588.80,337.80 C591.30,338.80 593.13,339.58 595.00,341.00 C596.87,342.42 598.50,344.72 600.00,346.30 C601.50,347.88 602.80,349.00 604.00,350.50 C605.20,352.00 605.87,353.05 607.20,355.30 C608.53,357.55 610.07,360.18 612.00,364.00 C613.93,367.82 616.22,371.98 618.80,378.20 C621.38,384.42 624.47,393.83 627.50,401.30 C630.53,408.77 633.87,416.13 637.00,423.00 C640.13,429.87 644.38,438.73 646.30,442.50 C648.22,446.27 648.13,445.08 648.50,445.60M689.80,445.60 C691.00,445.30 693.80,444.17 697.00,443.80 C700.20,443.43 705.00,443.32 709.00,443.40 C713.00,443.48 717.33,443.93 721.00,444.30 C724.67,444.67 729.33,445.38 731.00,445.60" stroke="#1c1c1c" stroke-width="1.3" fill="none" stroke-dasharray="8 4"/>
<line x1="22.50" y1="445.60" x2="750.20" y2="445.60" stroke="#9a9a9a" stroke-width="1.4" />
<path d="M40.00,404.70H45.00M42.50,404.70V417.50M40.00,417.50H45.00" stroke="#a8a8a8" stroke-width="1" fill="none"/>
<path d="M60.63,415.50H65.63M63.13,415.50V425.30M60.63,425.30H65.63" stroke="#a8a8a8" stroke-width="1" fill="none"/>
<path d="M81.26,427.50H86.26M83.76,427.50V434.00M81.26,434.00H86.26" stroke="#a8a8a8" stroke-width="1" fill="none"/>
<path d="M122.51,430.40H127.51M125.01,430.40V437.00M122.51,437.00H127.51" stroke="#a8a8a8" stroke-width="1" fill="none"/>
<polygon points="42.50,408.58 45.37,413.02 39.63,413.02" fill="#bdbdbd" stroke="#a3a3a3" stroke-width="0.8"/>
<polygon points="63.13,418.08 66.00,422.52 60.26,422.52" fill="#bdbdbd" stroke="#a3a3a3" stroke-width="0.8"/>
<polygon points="83.76,428.58 86.63,433.02 80.89,433.02" fill="#bdbdbd" stroke="#a3a3a3" stroke-width="0.8"/>
<polygon points="125.01,431.28 127.88,435.72 122.14,435.72" fill="#bdbdbd" stroke="#a3a3a3" stroke-width="0.8"/>
<polygon points="166.27,443.38 169.14,447.82 163.40,447.82" fill="#bdbdbd" stroke="#a3a3a3" stroke-width="0.8"/>
<polygon points="207.52,443.38 210.39,447.82 204.65,447.82" fill="#bdbdbd" stroke="#a3a3a3" stroke-width="0.8"/>
<polygon points="248.78,443.38 251.65,447.82 245.91,447.82" fill="#bdbdbd" stroke="#a3a3a3" stroke-width="0.8"/>
<path d="M40.00,315.80H45.00M42.50,315.80V322.50M40.00,322.50H45.00" stroke="#a8a8a8" stroke-width="1" fill="none"/>
<path d="M60.63,344.70H65.63M63.13,344.70V354.20M60.63,354.20H65.63" stroke="#a8a8a8" stroke-width="1" fill="none"/>
<path d="M81.26,332.20H86.26M83.76,332.20V345.00M81.26,345.00H86.26" stroke="#a8a8a8" stroke-width="1" fill="none"/>
<path d="M122.51,342.50H127.51M125.01,342.50V355.30M122.51,355.30H127.51" stroke="#a8a8a8" stroke-width="1" fill="none"/>
<circle cx="42.50" cy="319.20" r="2.7" fill="#bdbdbd" stroke="#a3a3a3" stroke-width="0.8"/>
<circle cx="63.13" cy="349.50" r="2.7" fill="#bdbdbd" stroke="#a3a3a3" stroke-width="0.8"/>
<circle cx="83.76" cy="338.80" r="2.7" fill="#bdbdbd" stroke="#a3a3a3" stroke-width="0.8"/>
<circle cx="125.01" cy="348.70" r="2.7" fill="#bdbdbd" stroke="#a3a3a3" stroke-width="0.8"/>
<circle cx="166.27" cy="445.60" r="2.7" fill="#bdbdbd" stroke="#a3a3a3" stroke-width="0.8"/>
<circle cx="207.52" cy="445.60" r="2.7" fill="#bdbdbd" stroke="#a3a3a3" stroke-width="0.8"/>
<circle cx="248.78" cy="445.60" r="2.7" fill="#bdbdbd" stroke="#a3a3a3" stroke-width="0.8"/>
<path d="M280.50,321.50H285.50M283.00,321.50V343.50M280.50,343.50H285.50" stroke="#a8a8a8" stroke-width="1" fill="none"/>
<path d="M301.25,326.60H306.25M303.75,326.60V349.70M301.25,349.70H306.25" stroke="#a8a8a8" stroke-width="1" fill="none"/>
<path d="M322.00,325.30H327.00M324.50,325.30V356.60M322.00,356.60H327.00" stroke="#a8a8a8" stroke-width="1" fill="none"/>
<path d="M363.49,308.40H368.49M365.99,308.40V336.00M363.49,336.00H368.49" stroke="#a8a8a8" stroke-width="1" fill="none"/>
<polygon points="283.00,329.48 285.87,333.92 280.13,333.92" fill="#bdbdbd" stroke="#a3a3a3" stroke-width="0.8"/>
<polygon points="303.75,336.18 306.62,340.62 300.88,340.62" fill="#bdbdbd" stroke="#a3a3a3" stroke-width="0.8"/>
<polygon points="324.50,340.28 327.37,344.72 321.63,344.72" fill="#bdbdbd" stroke="#a3a3a3" stroke-width="0.8"/>
<polygon points="365.99,320.08 368.86,324.52 363.12,324.52" fill="#bdbdbd" stroke="#a3a3a3" stroke-width="0.8"/>
<polygon points="407.49,443.38 410.36,447.82 404.62,447.82" fill="#bdbdbd" stroke="#a3a3a3" stroke-width="0.8"/>
<polygon points="448.98,443.38 451.85,447.82 446.11,447.82" fill="#bdbdbd" stroke="#a3a3a3" stroke-width="0.8"/>
<polygon points="490.48,443.38 493.35,447.82 487.61,447.82" fill="#bdbdbd" stroke="#a3a3a3" stroke-width="0.8"/>
<path d="M322.00,336.50H327.00M324.50,336.50V351.50M322.00,351.50H327.00" stroke="#a8a8a8" stroke-width="1" fill="none"/>
<circle cx="283.00" cy="331.70" r="2.7" fill="#bdbdbd" stroke="#a3a3a3" stroke-width="0.8"/>
<circle cx="303.75" cy="339.70" r="2.7" fill="#bdbdbd" stroke="#a3a3a3" stroke-width="0.8"/>
<circle cx="324.50" cy="343.10" r="2.7" fill="#bdbdbd" stroke="#a3a3a3" stroke-width="0.8"/>
<circle cx="365.99" cy="361.90" r="2.7" fill="#bdbdbd" stroke="#a3a3a3" stroke-width="0.8"/>
<circle cx="407.49" cy="445.60" r="2.7" fill="#bdbdbd" stroke="#a3a3a3" stroke-width="0.8"/>
<circle cx="448.98" cy="445.60" r="2.7" fill="#bdbdbd" stroke="#a3a3a3" stroke-width="0.8"/>
<circle cx="490.48" cy="445.60" r="2.7" fill="#bdbdbd" stroke="#a3a3a3" stroke-width="0.8"/>
<path d="M522.50,337.80H527.50M525.00,337.80V357.90M522.50,357.90H527.50" stroke="#a8a8a8" stroke-width="1" fill="none"/>
<path d="M543.08,330.90H548.08M545.58,330.90V353.40M543.08,353.40H548.08" stroke="#a8a8a8" stroke-width="1" fill="none"/>
<path d="M563.66,321.50H568.66M566.16,321.50V350.40M563.66,350.40H568.66" stroke="#a8a8a8" stroke-width="1" fill="none"/>
<path d="M604.82,346.30H609.82M607.32,346.30V366.00M604.82,366.00H609.82" stroke="#a8a8a8" stroke-width="1" fill="none"/>
<polygon points="525.00,345.98 527.87,350.42 522.13,350.42" fill="#bdbdbd" stroke="#a3a3a3" stroke-width="0.8"/>
<polygon points="545.58,340.88 548.45,345.32 542.71,345.32" fill="#bdbdbd" stroke="#a3a3a3" stroke-width="0.8"/>
<polygon points="566.16,334.28 569.03,338.72 563.29,338.72" fill="#bdbdbd" stroke="#a3a3a3" stroke-width="0.8"/>
<polygon points="607.32,353.08 610.19,357.52 604.45,357.52" fill="#bdbdbd" stroke="#a3a3a3" stroke-width="0.8"/>
<polygon points="648.48,443.38 651.35,447.82 645.61,447.82" fill="#bdbdbd" stroke="#a3a3a3" stroke-width="0.8"/>
<polygon points="689.64,443.38 692.51,447.82 686.77,447.82" fill="#bdbdbd" stroke="#a3a3a3" stroke-width="0.8"/>
<polygon points="730.80,443.38 733.67,447.82 727.93,447.82" fill="#bdbdbd" stroke="#a3a3a3" stroke-width="0.8"/>
<path d="M604.82,313.50H609.82M607.32,313.50V323.40M604.82,323.40H609.82" stroke="#a8a8a8" stroke-width="1" fill="none"/>
<circle cx="525.00" cy="351.90" r="2.7" fill="#bdbdbd" stroke="#a3a3a3" stroke-width="0.8"/>
<circle cx="545.58" cy="344.40" r="2.7" fill="#bdbdbd" stroke="#a3a3a3" stroke-width="0.8"/>
<circle cx="566.16" cy="338.80" r="2.7" fill="#bdbdbd" stroke="#a3a3a3" stroke-width="0.8"/>
<circle cx="607.32" cy="318.50" r="2.7" fill="#bdbdbd" stroke="#a3a3a3" stroke-width="0.8"/>
<circle cx="648.48" cy="445.60" r="2.7" fill="#bdbdbd" stroke="#a3a3a3" stroke-width="0.8"/>
<circle cx="689.64" cy="445.60" r="2.7" fill="#bdbdbd" stroke="#a3a3a3" stroke-width="0.8"/>
<circle cx="730.80" cy="445.60" r="2.7" fill="#bdbdbd" stroke="#a3a3a3" stroke-width="0.8"/>
<text x="42.30" y="313.90" font-size="8.6" text-anchor="middle" font-weight="normal" fill="#1e1e1e" >c</text>
<text x="63.00" y="341.30" font-size="8.6" text-anchor="middle" font-weight="normal" fill="#1e1e1e" >b</text>
<text x="83.30" y="329.30" font-size="8.6" text-anchor="middle" font-weight="normal" fill="#1e1e1e" >b</text>
<text x="124.70" y="338.80" font-size="8.6" text-anchor="middle" font-weight="normal" fill="#1e1e1e" >b</text>
<text x="42.50" y="402.10" font-size="8.6" text-anchor="middle" font-weight="normal" fill="#1e1e1e" >b</text>
<text x="63.00" y="412.90" font-size="8.6" text-anchor="middle" font-weight="normal" fill="#1e1e1e" >b</text>
<text x="83.70" y="424.60" font-size="8.6" text-anchor="middle" font-weight="normal" fill="#1e1e1e" >b</text>
<text x="124.70" y="427.30" font-size="8.6" text-anchor="middle" font-weight="normal" fill="#1e1e1e" >b</text>
<text x="167.87" y="434.40" font-size="8.6" text-anchor="middle" font-weight="normal" fill="#1e1e1e" >a</text>
<text x="167.87" y="440.70" font-size="8.6" text-anchor="middle" font-weight="normal" fill="#1e1e1e" >a</text>
<text x="209.12" y="434.40" font-size="8.6" text-anchor="middle" font-weight="normal" fill="#1e1e1e" >a</text>
<text x="209.12" y="440.70" font-size="8.6" text-anchor="middle" font-weight="normal" fill="#1e1e1e" >a</text>
<text x="247.98" y="434.40" font-size="8.6" text-anchor="middle" font-weight="normal" fill="#1e1e1e" >a</text>
<text x="247.98" y="440.70" font-size="8.6" text-anchor="middle" font-weight="normal" fill="#1e1e1e" >a</text>
<text x="409.09" y="434.40" font-size="8.6" text-anchor="middle" font-weight="normal" fill="#1e1e1e" >a</text>
<text x="409.09" y="440.70" font-size="8.6" text-anchor="middle" font-weight="normal" fill="#1e1e1e" >a</text>
<text x="450.58" y="434.40" font-size="8.6" text-anchor="middle" font-weight="normal" fill="#1e1e1e" >a</text>
<text x="450.58" y="440.70" font-size="8.6" text-anchor="middle" font-weight="normal" fill="#1e1e1e" >a</text>
<text x="489.68" y="434.40" font-size="8.6" text-anchor="middle" font-weight="normal" fill="#1e1e1e" >a</text>
<text x="489.68" y="440.70" font-size="8.6" text-anchor="middle" font-weight="normal" fill="#1e1e1e" >a</text>
<text x="650.08" y="434.40" font-size="8.6" text-anchor="middle" font-weight="normal" fill="#1e1e1e" >a</text>
<text x="650.08" y="440.70" font-size="8.6" text-anchor="middle" font-weight="normal" fill="#1e1e1e" >a</text>
<text x="691.24" y="434.40" font-size="8.6" text-anchor="middle" font-weight="normal" fill="#1e1e1e" >a</text>
<text x="691.24" y="440.70" font-size="8.6" text-anchor="middle" font-weight="normal" fill="#1e1e1e" >a</text>
<text x="730.00" y="434.40" font-size="8.6" text-anchor="middle" font-weight="normal" fill="#1e1e1e" >a</text>
<text x="730.00" y="440.70" font-size="8.6" text-anchor="middle" font-weight="normal" fill="#1e1e1e" >a</text>
<text x="283.00" y="320.70" font-size="8.6" text-anchor="middle" font-weight="normal" fill="#1e1e1e" >c</text>
<text x="283.00" y="351.10" font-size="8.6" text-anchor="middle" font-weight="normal" fill="#1e1e1e" >c</text>
<text x="304.10" y="326.40" font-size="8.6" text-anchor="middle" font-weight="normal" fill="#1e1e1e" >c</text>
<text x="304.10" y="358.30" font-size="8.6" text-anchor="middle" font-weight="normal" fill="#1e1e1e" >c</text>
<text x="324.70" y="323.00" font-size="8.6" text-anchor="middle" font-weight="normal" fill="#1e1e1e" >c</text>
<text x="324.70" y="364.80" font-size="8.6" text-anchor="middle" font-weight="normal" fill="#1e1e1e" >c</text>
<text x="366.00" y="306.70" font-size="8.6" text-anchor="middle" font-weight="normal" fill="#1e1e1e" >c</text>
<text x="366.00" y="374.60" font-size="8.6" text-anchor="middle" font-weight="normal" fill="#1e1e1e" >b</text>
<text x="524.10" y="336.10" font-size="8.6" text-anchor="middle" font-weight="normal" fill="#1e1e1e" >b</text>
<text x="524.10" y="367.30" font-size="8.6" text-anchor="middle" font-weight="normal" fill="#1e1e1e" >b</text>
<text x="545.10" y="331.60" font-size="8.6" text-anchor="middle" font-weight="normal" fill="#1e1e1e" >b</text>
<text x="545.10" y="363.50" font-size="8.6" text-anchor="middle" font-weight="normal" fill="#1e1e1e" >b</text>
<text x="565.70" y="319.40" font-size="8.6" text-anchor="middle" font-weight="normal" fill="#1e1e1e" >b</text>
<text x="565.70" y="358.80" font-size="8.6" text-anchor="middle" font-weight="normal" fill="#1e1e1e" >b</text>
<text x="607.20" y="311.40" font-size="8.6" text-anchor="middle" font-weight="normal" fill="#1e1e1e" >c</text>
<text x="607.20" y="343.30" font-size="8.6" text-anchor="middle" font-weight="normal" fill="#1e1e1e" >b</text>
</svg>
</body></html>
